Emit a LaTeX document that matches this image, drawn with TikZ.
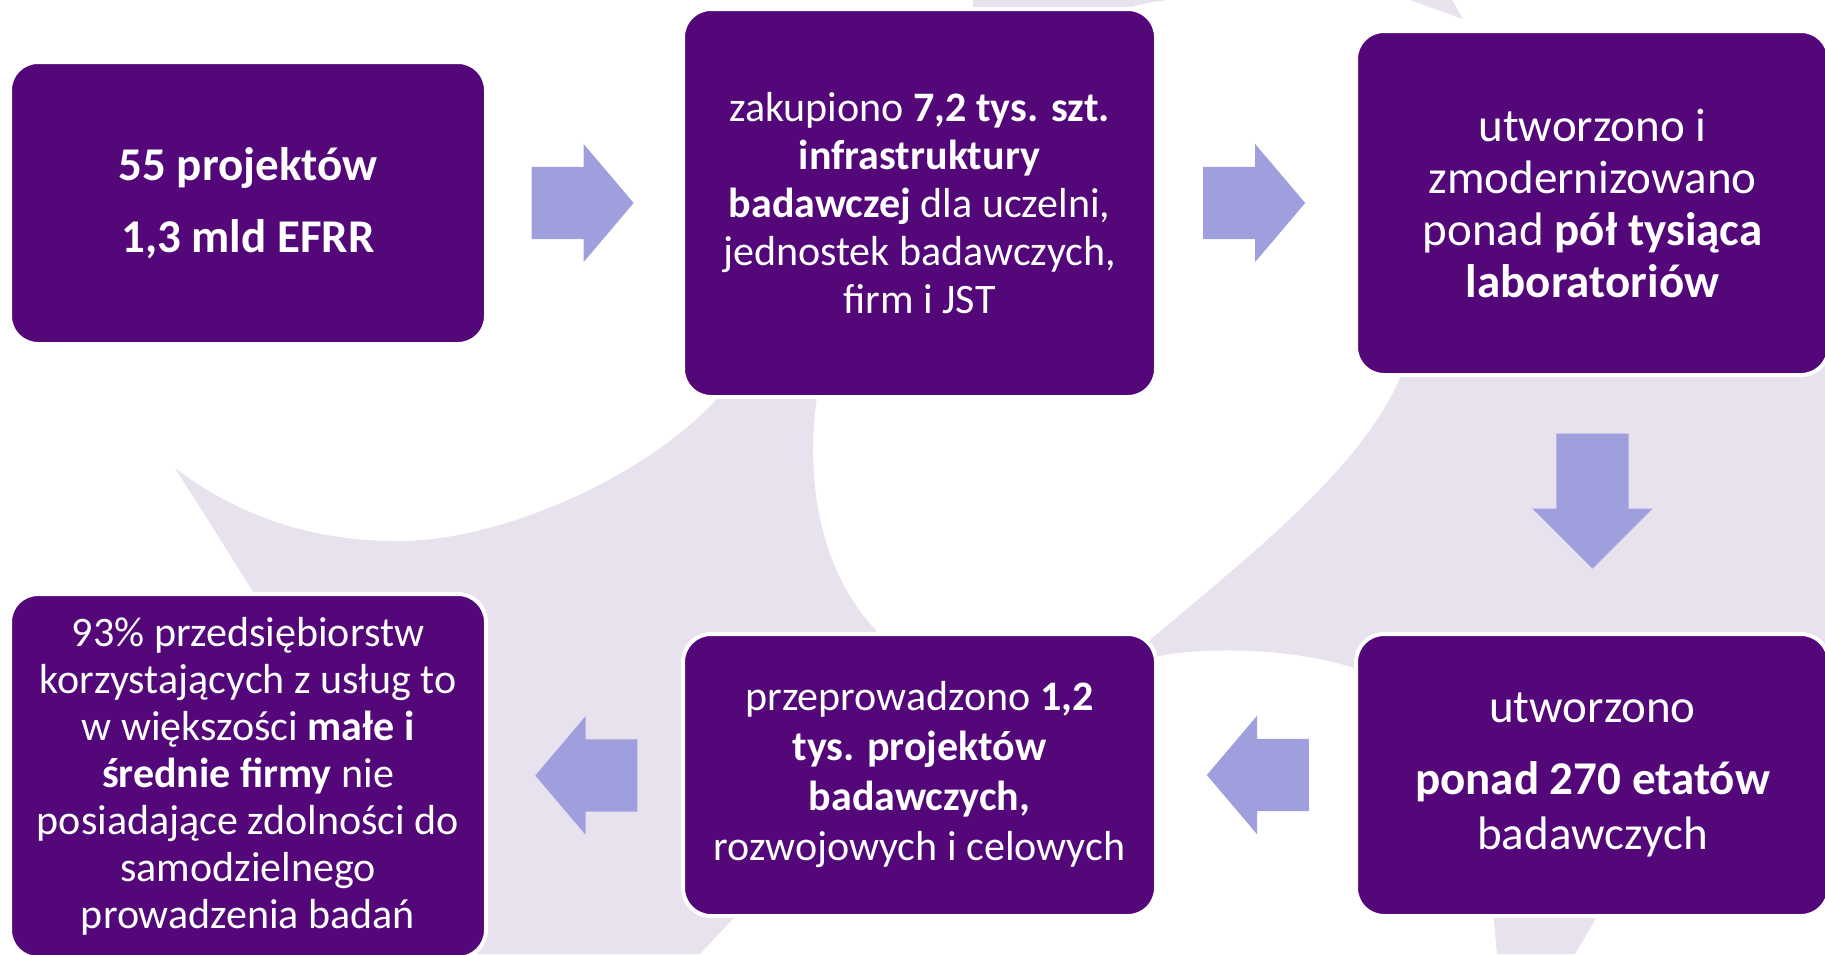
\documentclass[tikz,border=0pt]{standalone}
\usepackage{fontspec}
\setmainfont{Carlito}
\usepackage{xcolor}
\usepackage{tikz}
\usetikzlibrary{shapes.arrows,positioning,calc}
\definecolor{boxpurple}{RGB}{83,7,121}
\definecolor{arrowblue}{RGB}{160,159,221}
\definecolor{swirl}{RGB}{232,225,238}
\tikzset{
  cardbox/.style = {rectangle, rounded corners = 28pt, fill = boxpurple, draw = white,
    line width = 4pt, text = white, align = center, inner sep = 0pt},
  flowarrow/.style = {single arrow, fill = arrowblue, draw = none, inner xsep = 0pt,
    inner ysep = 36pt, minimum width = 102pt, minimum height = 102pt, anchor = tail,
    single arrow head extend = 23pt, single arrow tip angle = 99.4},
  downarrow/.style = {flowarrow, shape border rotate = 270, inner xsep = 36pt, inner ysep = 0pt,
    minimum width = 100pt, minimum height = 135pt, single arrow head extend = 24pt,
    single arrow tip angle = 90}
}
\begin{document}
\begin{tikzpicture}[x = 1pt, y = -1pt]
    \useasboundingbox (0,0) rectangle (1825,954);
    % Background swirl
    \fill[swirl] (175,468) .. controls (250,525) and (330,542) .. (402,541)
        .. controls (500,540) and (640,480) .. (714,402) -- (740,360) -- (817,360) -- (817,397)
        .. controls (805,480) and (820,570) .. (874,628) -- (900,660) -- (760,890)
        -- (700,954) -- (300,954) -- (290,650) -- cycle;
    \fill[swirl] (1400,360) -- (1400,378) .. controls (1360,470) and (1250,555) .. (1150,640)
        -- (1150,660) -- (1156,657) .. controls (1190,648) and (1290,645) .. (1360,670)
        -- (1400,700) -- (1829,700) -- (1829,360) -- cycle;
    \fill[swirl] (1492,900) -- (1497,954) -- (1575,954) -- (1607,900) -- cycle;
    \fill[swirl] (973,0) -- (1168,0) .. controls (1150,2) and (1135,5) .. (1125,10) -- (973,10) -- cycle;
    \fill[swirl] (1410,0) -- (1452,0) -- (1463,19) -- cycle;
    % Top row
    \node[cardbox, minimum width = 476pt, minimum height = 282pt, font = \fontsize{47}{72}\selectfont\bfseries]
        (proj) at (248,203) {55 projektów\\1,3 mld EFRR};
    \node[cardbox, minimum width = 473pt, minimum height = 388pt, font = \fontsize{42}{48}\selectfont]
        (infra) at (919.5,203) {zakupiono \textbf{7,2 tys. szt.}\\\textbf{infrastruktury}\\\textbf{badawczej} dla uczelni,\\jednostek badawczych,\\firm i JST};
    \node[cardbox, minimum width = 473pt, minimum height = 344pt, font = \fontsize{47}{52}\selectfont]
        (labs) at (1592.5,203) {utworzono i\\zmodernizowano\\ponad \textbf{pół tysiąca}\\\textbf{laboratoriów}};
    % Bottom row
    \node[cardbox, minimum width = 473pt, minimum height = 282pt, font = \fontsize{47}{55}\selectfont]
        (jobs) at (1592.5,775) {utworzono\\[17pt]\textbf{ponad 270 etatów}\\badawczych};
    \node[cardbox, minimum width = 473pt, minimum height = 282pt, font = \fontsize{42}{50}\selectfont]
        (research) at (919.5,775) {przeprowadzono \textbf{1,2}\\\textbf{tys. projektów}\\\textbf{badawczych,}\\rozwojowych i celowych};
    \node[cardbox, minimum width = 476pt, minimum height = 364pt, font = \fontsize{42}{47}\selectfont]
        (firms) at (248,776) {93\% przedsiębiorstw\\korzystających z usług to\\w większości \textbf{małe i}\\\textbf{średnie firmy} nie\\posiadające zdolności do\\samodzielnego\\prowadzenia badań};
    % Arrows between the steps
    \node[flowarrow] (a1) at ($(proj.east)!0.5!(infra.west) + (-53,0)$) {};
    \node[flowarrow] (a2) at ($(infra.east)!0.5!(labs.west) + (-53,0)$) {};
    \node[downarrow] (a3) at ($(labs.south)!0.5!(jobs.north) + (0,-71)$) {};
    \node[flowarrow, shape border rotate = 180] (a4) at ($(jobs.west)!0.5!(research.east) + (53,0)$) {};
    \node[flowarrow, shape border rotate = 180] (a5) at ($(research.west)!0.5!(firms.east) + (53,0)$) {};
\end{tikzpicture}
\end{document}
